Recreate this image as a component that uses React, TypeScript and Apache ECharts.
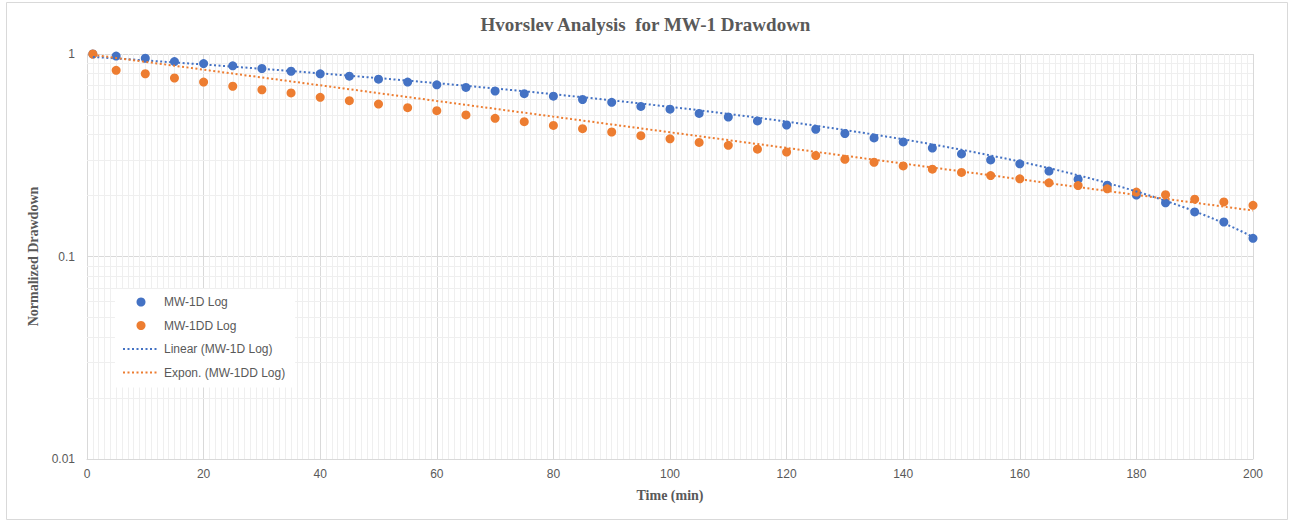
import React, { useEffect, useRef } from "react";
import * as echarts from "echarts";

const titleText = "Hvorslev Analysis  for MW-1 Drawdown";
const xAxisName = "Time (min)";
const yAxisName = "Normalized Drawdown";

const times = [1, 5, 10, 15, 20, 25, 30, 35, 40, 45, 50, 55, 60, 65, 70, 75, 80, 85, 90, 95, 100, 105, 110, 115, 120, 125, 130, 135, 140, 145, 150, 155, 160, 165, 170, 175, 180, 185, 190, 195, 200];

const mw1d = [1.0, 0.977, 0.953, 0.918, 0.897, 0.874, 0.848, 0.822, 0.798, 0.777, 0.751, 0.727, 0.704, 0.684, 0.656, 0.637, 0.619, 0.596, 0.577, 0.551, 0.534, 0.509, 0.488, 0.467, 0.446, 0.425, 0.405, 0.385, 0.368, 0.343, 0.321, 0.300, 0.287, 0.264, 0.241, 0.225, 0.201, 0.184, 0.166, 0.148, 0.123];

const mw1dd = [1.0, 0.831, 0.799, 0.761, 0.727, 0.693, 0.666, 0.642, 0.611, 0.588, 0.566, 0.543, 0.525, 0.5, 0.481, 0.463, 0.444, 0.428, 0.412, 0.395, 0.381, 0.366, 0.354, 0.339, 0.328, 0.315, 0.302, 0.292, 0.28, 0.27, 0.26, 0.251, 0.242, 0.231, 0.224, 0.216, 0.208, 0.202, 0.192, 0.186, 0.179];

// Trendline coefficients
// Linear: y = intercept + slope * t
const linearTrend = [0.972, -0.004236];
// Exponential: y = a * exp(b * t)
const exponTrend = [1.0, -0.0089];

const minorLogTicks = [0.02, 0.03, 0.04, 0.05, 0.06, 0.07, 0.08, 0.09, 0.2, 0.3, 0.4, 0.5, 0.6, 0.7, 0.8, 0.9];

const seriesNames = ["MW-1D Log", "MW-1DD Log", "Linear (MW-1D Log)", "Expon. (MW-1DD Log)"];

const BLUE = "#4472C4";
const ORANGE = "#ED7D31";
const GRAY_TEXT = "#595959";

function buildTrends() {
  const t0 = times[0];
  const t1 = times[times.length - 1];
  const linPts: number[][] = [];
  const expPts: number[][] = [];
  for (let t = t0; t <= t1; t += 1) {
    linPts.push([t, linearTrend[0] + linearTrend[1] * t]);
    expPts.push([t, exponTrend[0] * Math.exp(exponTrend[1] * t)]);
  }
  return { linPts, expPts };
}

export default function App() {
  const ref = useRef<HTMLDivElement>(null);
  useEffect(() => {
    if (!ref.current) return;
    const chart = echarts.init(ref.current, undefined, { renderer: "svg" });
    const { linPts, expPts } = buildTrends();
    const labelFont = { color: GRAY_TEXT, fontSize: 12, fontFamily: "Liberation Sans" };
    chart.setOption({
      animation: false,
      backgroundColor: "#ffffff",
      title: {
        text: titleText,
        left: "center",
        top: 10,
        textStyle: {
          fontFamily: "Liberation Serif",
          fontWeight: "bold",
          fontSize: 19,
          color: GRAY_TEXT,
        },
      },
      graphic: [
        {
          type: "rect",
          shape: { x: 6.5, y: 2.5, width: 1281, height: 517 },
          style: { fill: "none", stroke: "#d9d9d9", lineWidth: 1 },
          silent: true,
        },
      ],
      grid: { left: 87, right: 38, top: 54, bottom: 62 },
      legend: {
        z: 20,
        orient: "vertical",
        left: 115,
        top: 289,
        padding: [6, 10, 8, 7],
        backgroundColor: "#ffffff",
        itemWidth: 36,
        itemHeight: 9,
        itemGap: 9.5,
        textStyle: { color: GRAY_TEXT, fontSize: 12, fontFamily: "Liberation Sans", lineHeight: 14 },
        data: [
          { name: seriesNames[0] },
          { name: seriesNames[1] },
          { name: seriesNames[2], itemStyle: { opacity: 0 } },
          { name: seriesNames[3], itemStyle: { opacity: 0 } },
        ],
      },
      xAxis: {
        type: "value",
        min: 0,
        max: 200,
        interval: 20,
        name: xAxisName,
        nameLocation: "middle",
        nameGap: 29,
        nameTextStyle: { fontFamily: "Liberation Serif", fontWeight: "bold", fontSize: 14, color: GRAY_TEXT },
        axisLine: { show: true, lineStyle: { color: "#d9d9d9" } },
        axisTick: { show: false },
        axisLabel: { ...labelFont, margin: 9 },
        splitLine: { show: true, lineStyle: { color: "#d9d9d9", width: 1 } },
        minorTick: { show: false, splitNumber: 20 },
        minorSplitLine: { show: true, lineStyle: { color: "#efefef", width: 1 } },
      },
      yAxis: {
        type: "log",
        logBase: 10,
        min: 0.01,
        max: 1,
        name: yAxisName,
        nameLocation: "middle",
        nameGap: 45,
        nameRotate: 90,
        nameTextStyle: { fontFamily: "Liberation Serif", fontWeight: "bold", fontSize: 14, color: GRAY_TEXT },
        axisLine: { show: true, lineStyle: { color: "#d9d9d9" } },
        axisTick: { show: false },
        axisLabel: { ...labelFont, margin: 12, formatter: (v: number) => String(v) },
        splitLine: { show: true, lineStyle: { color: "#d9d9d9", width: 1 } },
      },
      series: [
        {
          name: "minor-grid",
          type: "line",
          data: [],
          silent: true,
          z: 1,
          markLine: {
            z: 1,
            silent: true,
            symbol: ["none", "none"],
            label: { show: false },
            lineStyle: { color: "#efefef", type: "solid", width: 1 },
            data: minorLogTicks.map((v) => ({ yAxis: v })),
          },
        },
        {
          name: seriesNames[0],
          type: "scatter",
          z: 3,
          symbol: "circle",
          symbolSize: 9,
          itemStyle: { color: BLUE, opacity: 1 },
          data: times.map((t, i) => [t, mw1d[i]]),
        },
        {
          name: seriesNames[1],
          type: "scatter",
          z: 4,
          symbol: "circle",
          symbolSize: 9,
          itemStyle: { color: ORANGE, opacity: 1 },
          data: times.map((t, i) => [t, mw1dd[i]]),
        },
        {
          name: seriesNames[2],
          type: "line",
          z: 5,
          symbol: "none",
          showSymbol: false,
          lineStyle: { color: BLUE, width: 2, type: [2, 2.5] },
          itemStyle: { color: BLUE },
          data: linPts,
        },
        {
          name: seriesNames[3],
          type: "line",
          z: 5,
          symbol: "none",
          showSymbol: false,
          lineStyle: { color: ORANGE, width: 2, type: [2, 2.5] },
          itemStyle: { color: ORANGE },
          data: expPts,
        },
      ],
    });
    return () => chart.dispose();
  }, []);
  return (
    <div
      ref={ref}
      style={{ position: "fixed", left: 0, top: 0, width: 1291, height: 521 }}
    />
  );
}
